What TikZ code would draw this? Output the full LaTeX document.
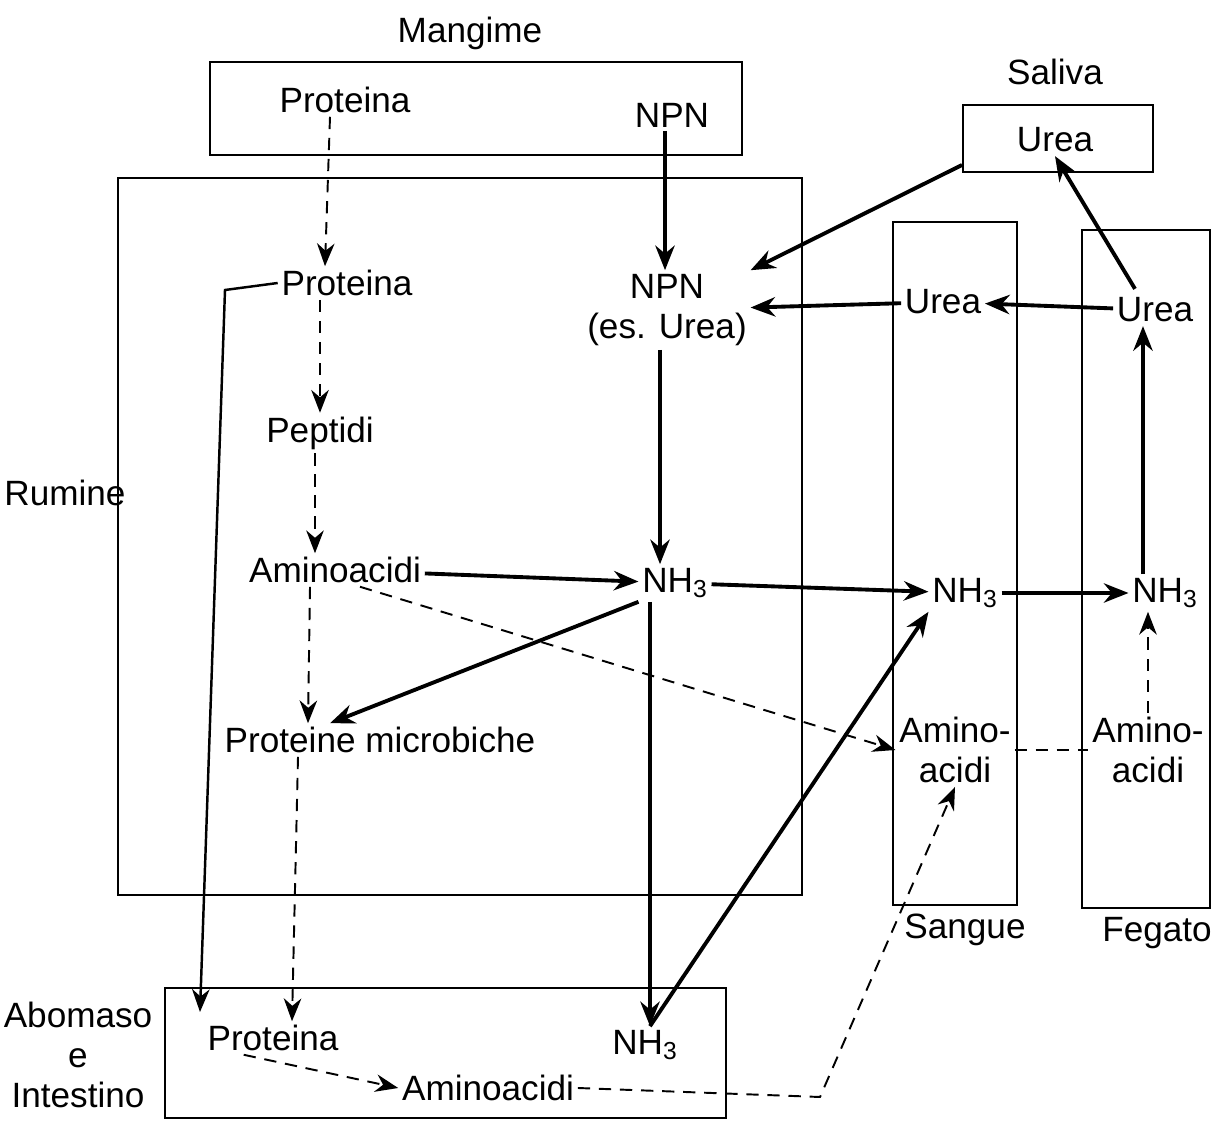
\documentclass[tikz,border=0pt]{standalone}
\usepackage{fontspec}
\setmainfont{Liberation Sans}
\usetikzlibrary{arrows.meta, positioning}
\tikzset{
    box/.style={draw=black, line width=1.2pt},
    lbl/.style={font=\fontsize{20}{23}\selectfont, align=center, inner sep=2pt},
    arrow/.style={line width=2.2pt, -{Stealth[length=14pt, width=11pt]}},
    darrow/.style={line width=1.1pt, dashed, dash pattern=on 7pt off 5pt, -{Stealth[length=13pt, width=10pt]}},
    dline/.style={line width=1.1pt, dashed, dash pattern=on 7pt off 5pt},
    thin/.style={line width=1.4pt, -{Stealth[length=13pt, width=10pt]}}
}
\newcommand{\nhthree}{NH\textsubscript{3}}
\begin{document}
\begin{tikzpicture}[x=0.02cm, y=-0.02cm]
    \useasboundingbox (0,0) rectangle (1214,1131);
    % Boxes
    \draw [box] (210,62) rectangle (742,155);
    \draw [box] (118,178) rectangle (802,895);
    \draw [box] (963,105) rectangle (1153,172);
    \draw [box] (893,222) rectangle (1017,905);
    \draw [box] (1082,230) rectangle (1210,908);
    \draw [box] (165,988) rectangle (726,1118);
    % Box labels
    \node (mangime) [lbl] at (470,33) {Mangime};
    \node (rumine) [lbl] at (65,493) {Rumine};
    \node (saliva) [lbl] at (1055,72) {Saliva};
    \node (sangue) [lbl] at (965,930) {Sangue};
    \node (fegato) [lbl] at (1157,933) {Fegato};
    \node (abomaso) [lbl] at (78,1055) {Abomaso\\e\\Intestino};
    % Nodes
    \node (protF) [lbl] at (345,100) {Proteina};
    \node (npnF) [lbl] at (672,115) {NPN};
    \node (ureaS) [lbl] at (1055,140) {Urea};
    \node (protR) [lbl] at (347,283) {Proteina};
    \node (npnR) [lbl] at (667,310) {NPN\\(es. Urea)};
    \node (pept) [lbl] at (320,433) {Peptidi};
    \node (aaR) [lbl] at (335,570) {Aminoacidi};
    \node (nhR) [lbl] at (675,583) {\nhthree};
    \node (pmic) [lbl] at (380,740) {Proteine microbiche};
    \node (ureaB) [lbl] at (943,302) {Urea};
    \node (ureaL) [lbl] at (1155,310) {Urea};
    \node (nhB) [lbl] at (965,593) {\nhthree};
    \node (nhL) [lbl] at (1165,593) {\nhthree};
    \node (aaB) [lbl] at (955,750) {Amino-\\acidi};
    \node (aaL) [lbl] at (1148,750) {Amino-\\acidi};
    \node (protA) [lbl] at (273,1038) {Proteina};
    \node (nhA) [lbl] at (645,1045) {\nhthree};
    \node (aaA) [lbl] at (488,1088) {Aminoacidi};
    \coordinate (bend) at (820,1097);
    \coordinate (wtop) at (225,290);
    % Dashed arrows
    \draw [darrow] (protF.south -| 330,0) -- (protR.north -| 325,0);
    \draw [darrow] (protR.south -| 320,0) -- (pept.north -| 320,0);
    \draw [darrow] (pept.south -| 315,0) -- (aaR.north -| 315,0);
    \draw [darrow] (aaR.south -| 310,0) -- (pmic.north -| 308,0);
    \draw [darrow] (pmic.south -| 298,0) -- (protA.north -| 292,0);
    \draw [darrow] (protA.south west) ++(40,0) -- (aaA.west);
    \draw [darrow] (aaR.south) ++(25,0) -- (aaB.west);
    \draw [dline] (aaB.east) -- (aaL.west);
    \draw [darrow] (aaL.north -| 1148,0) -- (nhL.south -| 1148,0);
    \draw [darrow] (aaA.east) -- (bend) -- (aaB.south);
    % Solid arrows
    \draw [arrow] (npnF.south -| 665,0) -- (npnR.north -| 665,0);
    \draw [arrow] (962,165) -- (npnR.north east);
    \draw [arrow] (ureaB) -- (npnR);
    \draw [arrow] (ureaL) -- (ureaB);
    \draw [arrow] (nhL.north -| 1143,0) -- (ureaL.south -| 1143,0);
    \draw [arrow] (ureaL.north) ++(-20,-5) -- (ureaS.south);
    \draw [arrow] (npnR.south -| 660,0) -- (nhR.north -| 660,0);
    \draw [arrow] (aaR) -- (nhR);
    \draw [arrow] (nhR) -- (nhB);
    \draw [arrow] (nhB) -- (nhL);
    \draw [arrow] (nhR.south west) -- (pmic.north west -| 330,0);
    \draw [arrow] (nhR.south -| 650,0) -- (nhA.north -| 650,0);
    \draw [arrow] (nhA.north -| 650,0) -- (nhB.south west);
    \draw [thin] (protR.west) -- (wtop) -- (200,1012);
\end{tikzpicture}
\end{document}
